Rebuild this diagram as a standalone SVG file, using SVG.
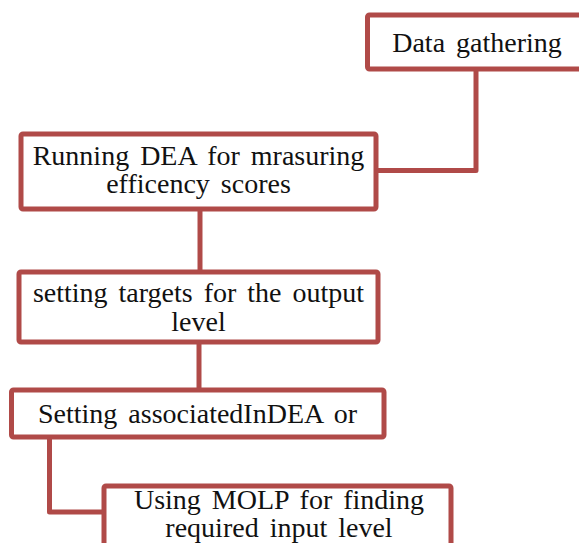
<svg xmlns="http://www.w3.org/2000/svg" width="579" height="543" viewBox="0 0 579 543">
<style>
.box{fill:#ffffff;stroke:#b04a48;stroke-width:5}
.con{fill:none;stroke:#b04a48;stroke-width:5;stroke-linejoin:round}
text{font-family:'Liberation Serif','Times New Roman',Tinos,'DejaVu Serif',serif;font-size:28px;word-spacing:4px;fill:#111111;text-anchor:middle}
</style>
<rect width="579" height="543" fill="#ffffff"/>
<g id="connectors">
<path class="con" d="M476,69 V170.5 H376"/>
<path class="con" d="M200,209 V272"/>
<path class="con" d="M199,342 V390"/>
<path class="con" d="M49.5,437 V512 H104"/>
</g>
<g id="n1">
<rect class="box" x="367.5" y="15" width="219" height="54" rx="2"/>
<text x="477" y="52" font-family="Liberation Serif, serif">Data gathering</text>
</g>
<g id="n2">
<rect class="box" x="21" y="134" width="355" height="75" rx="2"/>
<text x="198.5" y="165">Running DEA for mrasuring</text>
<text x="198.5" y="193">efficency scores</text>
</g>
<g id="n3">
<rect class="box" x="19" y="272" width="359" height="70" rx="2"/>
<text x="198.5" y="302">setting targets for the output</text>
<text x="198.5" y="331">level</text>
</g>
<g id="n4">
<rect class="box" x="11.5" y="390" width="372.5" height="47" rx="2"/>
<text x="197.5" y="423">Setting associatedInDEA or</text>
</g>
<g id="n5">
<rect class="box" x="104" y="486" width="347" height="80" rx="2"/>
<text x="279" y="509">Using MOLP for finding</text>
<text x="279" y="537">required input level</text>
</g>
</svg>
